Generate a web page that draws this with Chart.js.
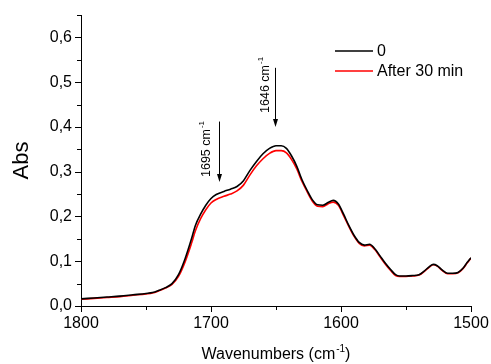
<!DOCTYPE html>
<html lang="en">
<head>
    <meta charset="UTF-8">
    <title>FTIR Abs spectrum</title>
    <script src="https://cdn.jsdelivr.net/npm/chart.js"></script>
    <style>
        body { margin: 0; background: #fff; }
        .wrap { width: 491px; height: 364px; position: relative; }
    </style>
</head>
<body>
<div class="wrap"><canvas id="ftirChart"></canvas></div>
<script>
    // wavenumbers (cm-1) and absorbance
    const wavenumbers = [1800, 1790, 1780, 1770, 1760, 1750, 1745, 1740, 1735, 1730, 1725, 1720, 1715, 1712, 1708, 1704,
        1700, 1696, 1690, 1685, 1680, 1675, 1670, 1665, 1660, 1655, 1650, 1646, 1642, 1638, 1634, 1630, 1626, 1622,
        1618, 1614, 1610, 1606, 1602, 1598, 1594, 1590, 1586, 1582, 1578, 1574, 1570, 1566, 1562, 1558, 1555, 1550,
        1545, 1540, 1536, 1532, 1529, 1526, 1522, 1518, 1514, 1510, 1506, 1503, 1500];

    const absStart = [0.016, 0.018, 0.020, 0.022, 0.025, 0.028, 0.030, 0.035, 0.041, 0.050, 0.070, 0.105, 0.150, 0.180, 0.205, 0.225,
        0.240, 0.249, 0.256, 0.261, 0.267, 0.280, 0.303, 0.323, 0.340, 0.352, 0.358, 0.358, 0.352, 0.335, 0.312, 0.282, 0.258, 0.237,
        0.226, 0.225, 0.231, 0.236, 0.228, 0.205, 0.180, 0.158, 0.142, 0.136, 0.138, 0.128, 0.112, 0.096, 0.082, 0.070, 0.067, 0.067,
        0.068, 0.070, 0.078, 0.088, 0.093, 0.090, 0.080, 0.073, 0.073, 0.075, 0.085, 0.097, 0.108];

    const abs30min = [0.015, 0.017, 0.019, 0.021, 0.024, 0.027, 0.029, 0.034, 0.040, 0.048, 0.066, 0.098, 0.140, 0.168, 0.195, 0.215,
        0.230, 0.238, 0.245, 0.250, 0.257, 0.270, 0.293, 0.313, 0.329, 0.341, 0.347, 0.347, 0.342, 0.327, 0.306, 0.278, 0.255, 0.234,
        0.223, 0.222, 0.228, 0.232, 0.225, 0.202, 0.178, 0.156, 0.140, 0.134, 0.136, 0.126, 0.110, 0.094, 0.080, 0.068, 0.066, 0.066,
        0.067, 0.069, 0.077, 0.087, 0.092, 0.089, 0.079, 0.072, 0.072, 0.074, 0.084, 0.096, 0.107];

    const seriesNames = ['0', 'After 30 min'];
    const xTickLabels = [1800, 1700, 1600, 1500];

    // arrow annotations: wavenumber, arrow top/bottom in Abs
    const peakLabels = ['1695', '1646'];
    const peakArrowX = [1694, 1651];
    const peakArrowTop = [0.412, 0.532];
    const peakArrowBottom = [0.277, 0.400];
    const peakTextShift = [[-10, -5], [-7, -14]]; // px offset of text from arrow bottom

    const FONT = '"Liberation Sans", Arial, sans-serif';

    function makePoints(vals) {
        return wavenumbers.map((w, i) => ({ x: w, y: vals[i] }));
    }

    function isMajorY(v) {
        return Math.abs(v * 10 - Math.round(v * 10)) < 1e-6;
    }

    // text with a superscript part, drawn at current origin (baseline)
    function drawSup(ctx, base, sup, size) {
        ctx.font = size + 'px ' + FONT;
        ctx.fillText(base, 0, 0);
        const w = ctx.measureText(base).width;
        ctx.font = Math.round(size * 0.62) + 'px ' + FONT;
        ctx.fillText(sup, w + 1, -size * 0.45);
    }

    const decorPlugin = {
        id: 'decor',
        afterDraw(chart) {
            const ctx = chart.ctx;
            const xs = chart.scales.x, ys = chart.scales.y;
            ctx.save();
            ctx.strokeStyle = '#000';
            ctx.fillStyle = '#000';
            ctx.lineWidth = 1;

            // tick marks (outward), major longer than minor
            ys.ticks.forEach(t => {
                const py = Math.round(ys.getPixelForValue(t.value)) + 0.5;
                const len = isMajorY(t.value) ? 6 : 4;
                ctx.beginPath();
                ctx.moveTo(xs.left, py);
                ctx.lineTo(xs.left - len, py);
                ctx.stroke();
            });
            xs.ticks.forEach(t => {
                const px = Math.round(xs.getPixelForValue(t.value)) + 0.5;
                const len = t.value % 100 === 0 ? 6 : 4;
                ctx.beginPath();
                ctx.moveTo(px, ys.bottom);
                ctx.lineTo(px, ys.bottom + len);
                ctx.stroke();
            });

            // axis titles
            ctx.textBaseline = 'alphabetic';
            ctx.textAlign = 'left';
            ctx.font = '16px ' + FONT;
            const base = 'Wavenumbers (cm';
            const bw = ctx.measureText(base).width;
            ctx.font = '10px ' + FONT;
            const sw = ctx.measureText('-1').width;
            ctx.font = '16px ' + FONT;
            const cw = ctx.measureText(')').width;
            const total = bw + sw + 1 + cw;
            const cx = (xs.left + xs.right) / 2 - total / 2;
            ctx.save();
            ctx.translate(cx, 359);
            drawSup(ctx, base, '-1', 16);
            ctx.font = '16px ' + FONT;
            ctx.fillText(')', bw + sw + 1, 0);
            ctx.restore();

            ctx.save();
            ctx.translate(28, (ys.top + ys.bottom) / 2);
            ctx.rotate(-Math.PI / 2);
            ctx.font = '22px ' + FONT;
            ctx.textAlign = 'center';
            ctx.fillText('Abs', 0, 0);
            ctx.restore();

            // arrows with rotated labels
            peakLabels.forEach((lab, i) => {
                const ax = Math.round(xs.getPixelForValue(peakArrowX[i])) + 0.5;
                const top = ys.getPixelForValue(peakArrowTop[i]);
                const bot = ys.getPixelForValue(peakArrowBottom[i]);
                ctx.beginPath();
                ctx.moveTo(ax, top);
                ctx.lineTo(ax, bot - 6);
                ctx.stroke();
                ctx.beginPath();
                ctx.moveTo(ax - 2.5, bot - 8);
                ctx.lineTo(ax + 2.5, bot - 8);
                ctx.lineTo(ax, bot);
                ctx.closePath();
                ctx.fill();

                ctx.save();
                ctx.translate(ax + peakTextShift[i][0], bot + peakTextShift[i][1]);
                ctx.rotate(-Math.PI / 2);
                ctx.textAlign = 'left';
                drawSup(ctx, lab + ' cm', '-1', 12.5);
                ctx.restore();
            });

            // legend
            ctx.font = '16px ' + FONT;
            ctx.textBaseline = 'middle';
            chart.data.datasets.forEach((ds, i) => {
                const ly = 51 + i * 20;
                ctx.strokeStyle = ds.borderColor;
                ctx.lineWidth = 1.5;
                ctx.beginPath();
                ctx.moveTo(335, ly);
                ctx.lineTo(373, ly);
                ctx.stroke();
                ctx.fillText(ds.label, 377, ly + 1);
            });
            ctx.restore();
        }
    };

    new Chart(document.getElementById('ftirChart'), {
        type: 'line',
        data: {
            datasets: [
                { label: seriesNames[0], data: makePoints(absStart), borderColor: '#000000', borderWidth: 1.6,
                  pointRadius: 0, tension: 0.4, cubicInterpolationMode: 'monotone' },
                { label: seriesNames[1], data: makePoints(abs30min), borderColor: '#ff0000', borderWidth: 1.6,
                  pointRadius: 0, tension: 0.4, cubicInterpolationMode: 'monotone' }
            ]
        },
        options: {
            responsive: true,
            maintainAspectRatio: false,
            animation: false,
            layout: { padding: { top: 15, right: 20, left: 0, bottom: 0 } },
            plugins: { legend: { display: false }, tooltip: { enabled: false } },
            scales: {
                x: {
                    type: 'linear',
                    reverse: true,
                    min: 1500,
                    max: 1800,
                    afterFit: s => { s.height = 58; s.paddingLeft = 0; s.paddingRight = 0; },
                    grid: { display: false, drawTicks: false },
                    border: { display: true, color: '#000', width: 1 },
                    ticks: {
                        stepSize: 50,
                        maxRotation: 0,
                        autoSkip: false,
                        padding: 8,
                        color: '#000',
                        font: { family: FONT, size: 16 },
                        callback: v => xTickLabels.includes(v) ? String(v) : ''
                    }
                },
                y: {
                    min: 0,
                    max: 0.65,
                    afterFit: s => { s.width = 81; s.paddingTop = 0; s.paddingBottom = 0; },
                    grid: { display: false, drawTicks: false },
                    border: { display: true, color: '#000', width: 1 },
                    ticks: {
                        stepSize: 0.05,
                        padding: 9,
                        color: '#000',
                        font: { family: FONT, size: 16 },
                        callback: v => isMajorY(v) ? v.toFixed(1).replace('.', ',') : ''
                    }
                }
            }
        },
        plugins: [decorPlugin]
    });
</script>
</body>
</html>
